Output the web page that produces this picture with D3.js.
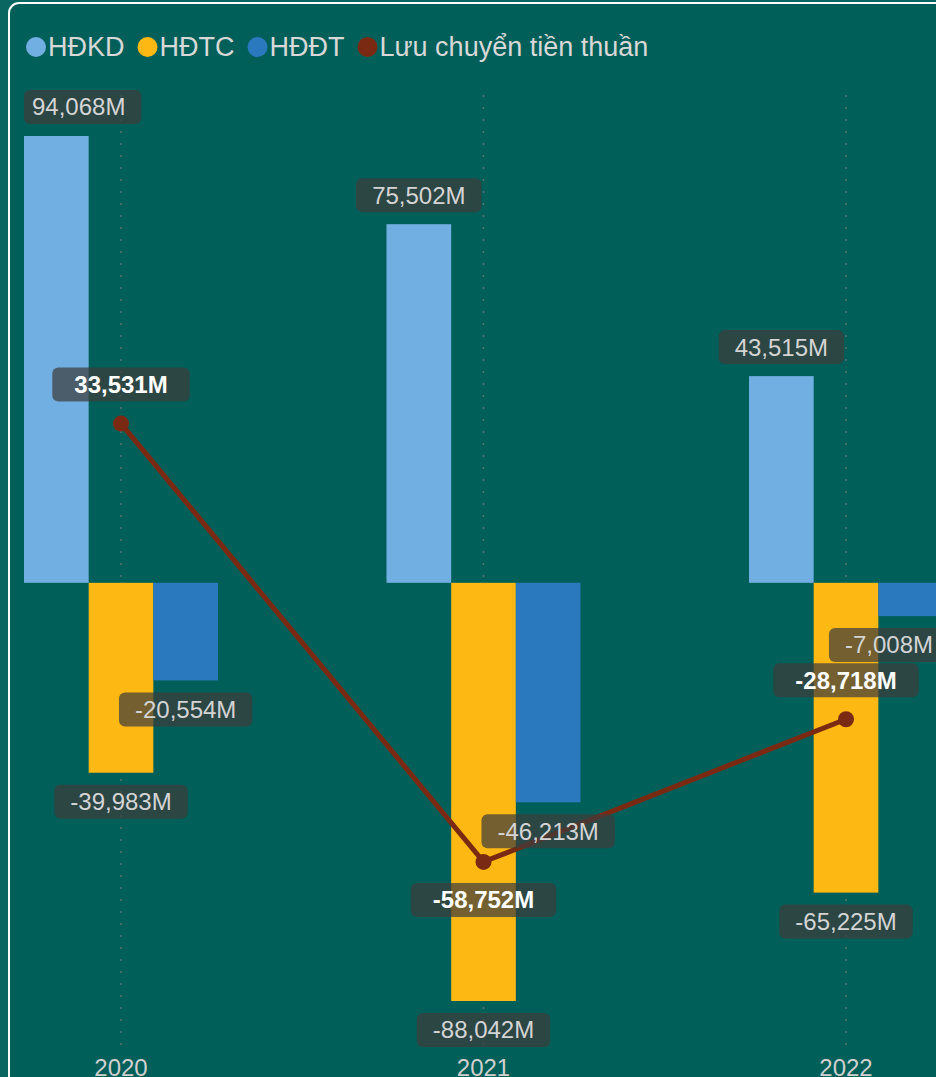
<!DOCTYPE html>
<html>
  <head>
    <meta charset="utf-8" />
    <title>Lưu chuyển tiền</title>
    <script src="https://d3js.org/d3.v7.min.js"></script>
    <style>
        body {
            margin: 0;
            background: #0a6661;
        }
        text {
            font-family: "Liberation Sans", Arial, sans-serif;
        }
    </style>
  </head>
  <body>
    <svg id="chart"></svg>

    <script>
        var years = ["2020", "2021", "2022"];
        var seriesNames = ["HĐKD", "HĐTC", "HĐĐT"];
        var hdkd = [94068, 75502, 43515];
        var hdtc = [-39983, -88042, -65225];
        var hddt = [-20554, -46213, -7008];
        var luuChuyen = [33531, -58752, -28718];
        var lineName = "Lưu chuyển tiền thuần";

        var colors = ["#71afe2", "#fdb813", "#2a78be"];
        var lineColor = "#7a2a12";

        var width = 936;
        var height = 1077;

        var svg = d3.select("#chart")
            .attr("width", width)
            .attr("height", height);

        // card
        svg.append("rect")
            .attr("x", 9).attr("y", 3)
            .attr("width", 1000).attr("height", 1200)
            .attr("rx", 10)
            .attr("fill", "#005f59")
            .attr("stroke", "#ffffff")
            .attr("stroke-width", 2);

        var x0 = d3.scaleBand()
            .domain(years)
            .range([-60.25, 1027.25])
            .paddingInner(0);

        var groupWidth = 194;
        var x1 = d3.scaleBand()
            .domain(seriesNames)
            .range([0, groupWidth]);

        var y = d3.scaleLinear()
            .domain([-88042, 94068])
            .range([1001, 136]);

        function cx(year) {
            return x0(year) + x0.bandwidth() / 2;
        }

        var bars = [];
        var values = [hdkd, hdtc, hddt];
        years.forEach(function(year, i) {
            seriesNames.forEach(function(s, j) {
                bars.push({year: year, series: s, value: values[j][i], color: colors[j]});
            });
        });

        // grid
        svg.append("g").selectAll("line")
            .data(years)
            .enter().append("line")
            .attr("x1", cx).attr("x2", cx)
            .attr("y1", 95).attr("y2", 1048)
            .attr("stroke", "#5a7371")
            .attr("stroke-width", 1.5)
            .attr("stroke-dasharray", "2,10");

        // bars
        svg.append("g").selectAll("rect")
            .data(bars)
            .enter().append("rect")
            .attr("x", function(d) { return cx(d.year) - groupWidth / 2 + x1(d.series); })
            .attr("width", x1.bandwidth())
            .attr("y", function(d) { return Math.min(y(d.value), y(0)); })
            .attr("height", function(d) { return Math.abs(y(d.value) - y(0)); })
            .attr("fill", function(d) { return d.color; });

        // line
        var points = years.map(function(year, i) {
            return {year: year, value: luuChuyen[i], i: i};
        });
        var line = d3.line()
            .x(function(d) { return cx(d.year); })
            .y(function(d) { return y(d.value); });

        svg.append("path")
            .datum(points)
            .attr("d", line)
            .attr("fill", "none")
            .attr("stroke", lineColor)
            .attr("stroke-width", 5);

        svg.append("g").selectAll("circle")
            .data(points)
            .enter().append("circle")
            .attr("cx", function(d) { return cx(d.year); })
            .attr("cy", function(d) { return y(d.value); })
            .attr("r", 8)
            .attr("fill", lineColor);

        // labels
        var fmt = d3.formatLocale({decimal: ".", thousands: ",", grouping: [3], currency: ["", ""], minus: "-"}).format(",");
        var labelLayer = svg.append("g");

        function drawLabel(centerX, centerY, txt, bold) {
            var g = labelLayer.append("g");
            var box = g.append("rect");
            var t = g.append("text")
                .attr("font-size", 24)
                .attr("font-weight", bold ? "bold" : "normal")
                .attr("fill", bold ? "#ffffff" : "#d4d4d4")
                .attr("text-anchor", "middle")
                .attr("dy", "0.35em")
                .text(txt);
            var pad = bold ? 22 : 16;
            var tw = t.node().getComputedTextLength();
            var w = tw + 2 * pad;
            var left = centerX - w / 2;
            if (left < 24) {
                // clipped at the left edge: box shrinks, text keeps small inset
                w = tw + pad + 8;
                left = 24;
                box.attr("x", left).attr("width", w);
                t.attr("x", left + 8 + tw / 2);
            } else {
                left = Math.min(949 - w, left);
                box.attr("x", left).attr("width", w);
                t.attr("x", left + w / 2);
            }
            box.attr("y", centerY - 17)
                .attr("height", 34)
                .attr("rx", 6)
                .attr("fill", "rgba(61,61,60,0.72)");
            t.attr("y", centerY);
        }

        bars.forEach(function(d) {
            var bx = cx(d.year) - groupWidth / 2 + x1(d.series) + x1.bandwidth() / 2;
            var by = d.value >= 0 ? y(d.value) - 29 : y(d.value) + 29;
            drawLabel(bx, by, fmt(d.value) + "M", false);
        });

        points.forEach(function(d, i) {
            var prev = i > 0 ? luuChuyen[i - 1] : Infinity;
            var next = i < luuChuyen.length - 1 ? luuChuyen[i + 1] : Infinity;
            var below = d.value < prev && d.value < next;
            var py = y(d.value);
            drawLabel(cx(d.year), below ? py + 38 : py - 39, fmt(d.value) + "M", true);
        });

        // x axis
        var axis = svg.append("g")
            .attr("transform", "translate(0,1050)")
            .call(d3.axisBottom(x0).tickSize(0).tickPadding(9));
        axis.select(".domain").remove();
        axis.selectAll("text")
            .attr("font-size", 24)
            .attr("fill", "#d0d0d0")
            .style("font-family", "'Liberation Sans', Arial, sans-serif");

        // legend
        var legend = svg.append("g");
        var legendItems = seriesNames.map(function(s, i) {
            return {name: s, color: colors[i]};
        }).concat([{name: lineName, color: lineColor}]);

        var lx = 36;
        legendItems.forEach(function(d) {
            legend.append("circle")
                .attr("cx", lx).attr("cy", 47).attr("r", 10)
                .attr("fill", d.color);
            var t = legend.append("text")
                .attr("x", lx + 12).attr("y", 47)
                .attr("dy", "0.35em")
                .attr("font-size", 27)
                .attr("fill", "#d8d8d8")
                .text(d.name);
            lx = lx + 12 + t.node().getComputedTextLength() + 23;
        });
    </script>
  </body>
</html>
